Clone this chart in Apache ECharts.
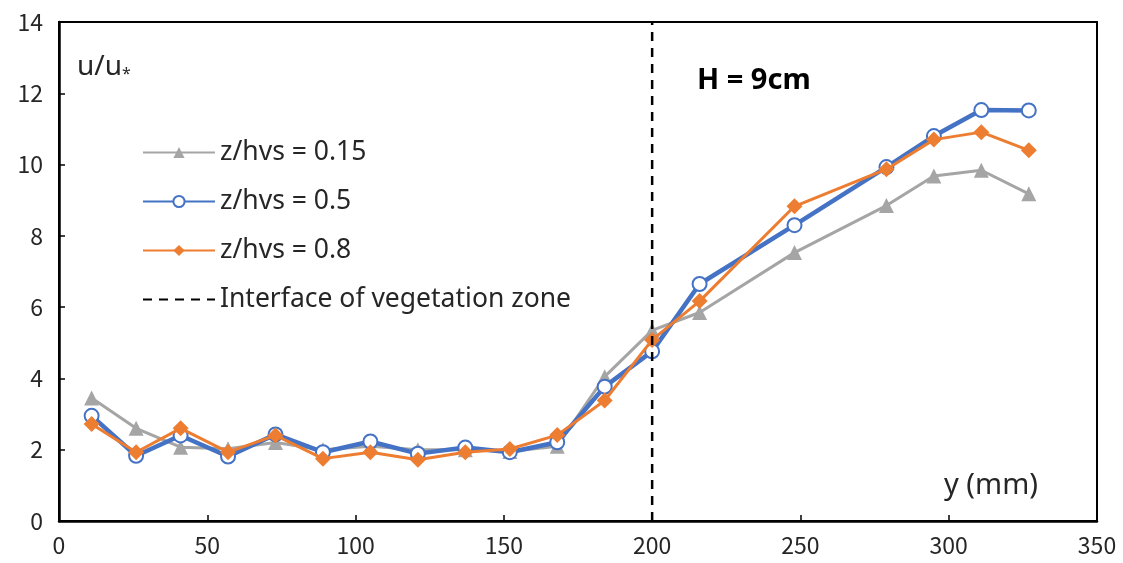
<!DOCTYPE html>
<html>
<head>
<meta charset="utf-8">
<script src="https://cdn.jsdelivr.net/npm/echarts@6/dist/echarts.min.js"></script>
<style>html,body{margin:0;padding:0;background:#fff;}#chart{width:1123px;height:563px;}</style>
</head>
<body>
<div id="chart"></div>
<script>
const yPos = [11, 26, 41, 57, 73, 89, 105, 121, 137, 152, 168, 184, 200, 216, 248, 279, 295, 311, 327];
const seriesNames = ['z/hvs = 0.15', 'z/hvs = 0.5', 'z/hvs = 0.8', 'Interface of vegetation zone'];
const u015 = [3.45, 2.6, 2.07, 2.03, 2.2, 2.0, 2.1, 2.0, 2.0, 1.95, 2.1, 4.05, 5.35, 5.85, 7.53, 8.85, 9.68, 9.84, 9.18];
const u05  = [2.95, 1.83, 2.4, 1.81, 2.43, 1.93, 2.23, 1.89, 2.06, 1.93, 2.21, 3.77, 4.76, 6.65, 8.3, 9.93, 10.8, 11.53, 11.52];
const u08  = [2.72, 1.93, 2.6, 1.93, 2.4, 1.75, 1.93, 1.72, 1.93, 2.02, 2.41, 3.38, 5.08, 6.17, 8.83, 9.87, 10.7, 10.91, 10.4];
const interfaceX = 200;
const interfaceY = [0, 14];
const xTicks = {min: 0, max: 350, interval: 50};
const yTicks = {min: 0, max: 14, interval: 2};

const pair = (xs, ys) => xs.map((x, i) => [x, ys[i]]);
const FONT = '"Noto Sans CJK SC", "Noto Sans", sans-serif';
const FONT2 = '"Noto Sans", sans-serif';
const TXT = '#262626';

const chart = echarts.init(document.getElementById('chart'), null, {renderer: 'canvas'});
chart.setOption({
  animation: false,
  backgroundColor: '#fff',
  grid: {left: 59, right: 26, top: 22, bottom: 42, show: true, borderColor: '#000', borderWidth: 2, backgroundColor: 'transparent'},
  xAxis: {
    type: 'value', min: xTicks.min, max: xTicks.max, interval: xTicks.interval,
    axisLine: {show: true, onZero: false, lineStyle: {color: '#000', width: 2.5}},
    axisTick: {show: true, inside: true, length: 6, lineStyle: {color: '#000', width: 1.5}},
    axisLabel: {color: TXT, fontSize: 23, fontFamily: FONT, margin: 13},
    splitLine: {show: false}
  },
  yAxis: {
    type: 'value', min: yTicks.min, max: yTicks.max, interval: yTicks.interval,
    axisLine: {show: true, onZero: false, lineStyle: {color: '#000', width: 2.5}},
    axisTick: {show: true, inside: true, length: 6, lineStyle: {color: '#000', width: 1.5}},
    axisLabel: {color: TXT, fontSize: 23, fontFamily: FONT, margin: 16},
    splitLine: {show: false}
  },
  legend: {
    orient: 'vertical', left: 137, top: 134,
    itemWidth: 72, itemHeight: 14, itemGap: 22,
    textStyle: {color: TXT, fontSize: 26.5, fontFamily: FONT2, lineHeight: 26, padding: [0, 0, 0, 0]},
    data: [
      seriesNames[0], seriesNames[1], seriesNames[2],
      {name: seriesNames[3], itemStyle: {color: 'transparent', borderColor: 'transparent', borderWidth: 0}}
    ]
  },
  graphic: [
    {type: 'text', left: 77, top: 53, style: {text: 'u/u{s|*}', rich: {s: {fontSize: 16, fontFamily: FONT2, fill: TXT, padding: [14, 0, 0, 0]}}, font: '28px ' + FONT2, fill: TXT}},
    {type: 'text', left: 697, top: 66, style: {text: 'H = 9cm', font: 'bold 29px ' + FONT2, fill: '#000'}},
    {type: 'text', left: 944, top: 471, style: {text: 'y (mm)', font: '29px ' + FONT2, fill: TXT}}
  ],
  series: [
    {name: seriesNames[0], type: 'line', data: pair(yPos, u015), symbol: 'triangle', symbolSize: 15,
     lineStyle: {color: '#A5A5A5', width: 3}, itemStyle: {color: '#A5A5A5'}, z: 2},
    {name: seriesNames[1], type: 'line', data: pair(yPos, u05), symbol: 'emptyCircle', symbolSize: 14,
     lineStyle: {color: '#4472C4', width: 4.5}, itemStyle: {color: '#4472C4', borderWidth: 2}, z: 3},
    {name: seriesNames[2], type: 'line', data: pair(yPos, u08), symbol: 'diamond', symbolSize: 16,
     lineStyle: {color: '#ED7D31', width: 3}, itemStyle: {color: '#ED7D31'}, z: 4},
    {name: seriesNames[3], type: 'line', data: interfaceY.map(v => [interfaceX, v]), symbol: 'none',
     lineStyle: {color: '#000', width: 2.5, type: [9, 7]}, itemStyle: {color: '#000'}, z: 5}
  ]
});
</script>
</body>
</html>
